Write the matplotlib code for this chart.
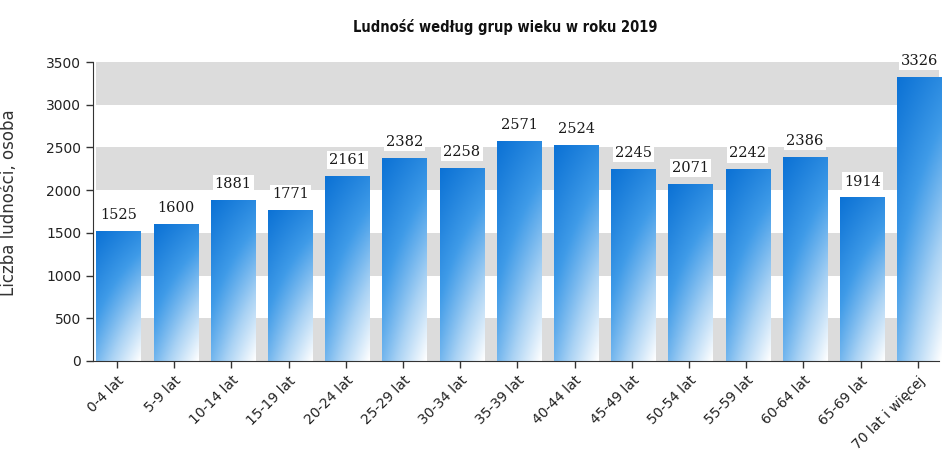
import numpy as np
import matplotlib
matplotlib.use("Agg")
import matplotlib.pyplot as plt
from matplotlib.colors import LinearSegmentedColormap

categories = ["0-4 lat", "5-9 lat", "10-14 lat", "15-19 lat", "20-24 lat",
              "25-29 lat", "30-34 lat", "35-39 lat", "40-44 lat", "45-49 lat",
              "50-54 lat", "55-59 lat", "60-64 lat", "65-69 lat", "70 lat i więcej"]
values = [1525, 1600, 1881, 1771, 2161, 2382, 2258, 2571, 2524, 2245,
          2071, 2242, 2386, 1914, 3326]
yticks = [0, 500, 1000, 1500, 2000, 2500, 3000, 3500]
band_starts = [0, 1000, 2000, 3000]

title = "Ludność według grup wieku w roku 2019"
ylabel = "Liczba ludności, osoba"

fig = plt.figure(figsize=(9.44, 4.74), dpi=100)
ax = fig.add_axes([93 / 944, 113 / 474, 846 / 944, 299 / 474])

x = np.arange(len(categories))

# grey horizontal bands
for b in band_starts:
    ax.axhspan(b, b + 500, xmin=0.004, xmax=1, color="#dcdcdc", lw=0, zorder=0)

# gradient bars: blue at the top-left, fading to white towards bottom-right
cmap = LinearSegmentedColormap.from_list(
    "barblue", ["#0c72d5", "#3f9be8", "#a9d2f4", "#ffffff"])
ny, nx = 120, 40
yy, xx = np.mgrid[0:1:ny * 1j, 0:1:nx * 1j]
grad = 0.5 * yy + 0.2 * xx + 0.3 * xx * yy

bars = ax.bar(x + 0.03, values, width=0.78, color="none", edgecolor="none", zorder=2)
for rect, v in zip(bars, values):
    x0 = rect.get_x()
    w = rect.get_width()
    im = ax.imshow(grad, cmap=cmap, vmin=0, vmax=1, aspect="auto",
                   extent=[x0, x0 + w, 0, v], origin="upper",
                   interpolation="bicubic", zorder=2)
    im.set_clip_path(rect)
    ax.text(x0 + w / 2, v + 105, str(v), ha="center", va="bottom",
            fontsize=10.5, family="DejaVu Serif", color="#1a1a1a", zorder=3,
            bbox=dict(facecolor="white", edgecolor="none", pad=1.5))

ax.set_xlim(-0.42, len(categories) - 1 + 0.37)
ax.set_ylim(0, 3500)

ax.set_xticks(x)
ax.set_xticklabels(categories, rotation=45, ha="right", rotation_mode="anchor",
                   fontsize=10, color="#222222")
ax.set_yticks(yticks)
ax.set_yticklabels([str(t) for t in yticks], fontsize=10, color="#222222")
ax.tick_params(axis="both", length=5, width=1, color="#333333")
ax.tick_params(axis="x", pad=4)

for side in ["top", "right"]:
    ax.spines[side].set_visible(False)
ax.spines["left"].set_color("#333333")
ax.spines["bottom"].set_color("#333333")

ax.set_ylabel(ylabel, fontsize=12, color="#333333")
ax.yaxis.set_label_coords(-75 / 846, 0.53)

fig.text(505 / 944, 1 - 27 / 474, title, ha="center", va="center",
         fontsize=10.5, fontweight="bold", fontstretch="condensed",
         family=["DejaVu Sans"], color="#111111")

fig.savefig("out.png", dpi=100)
